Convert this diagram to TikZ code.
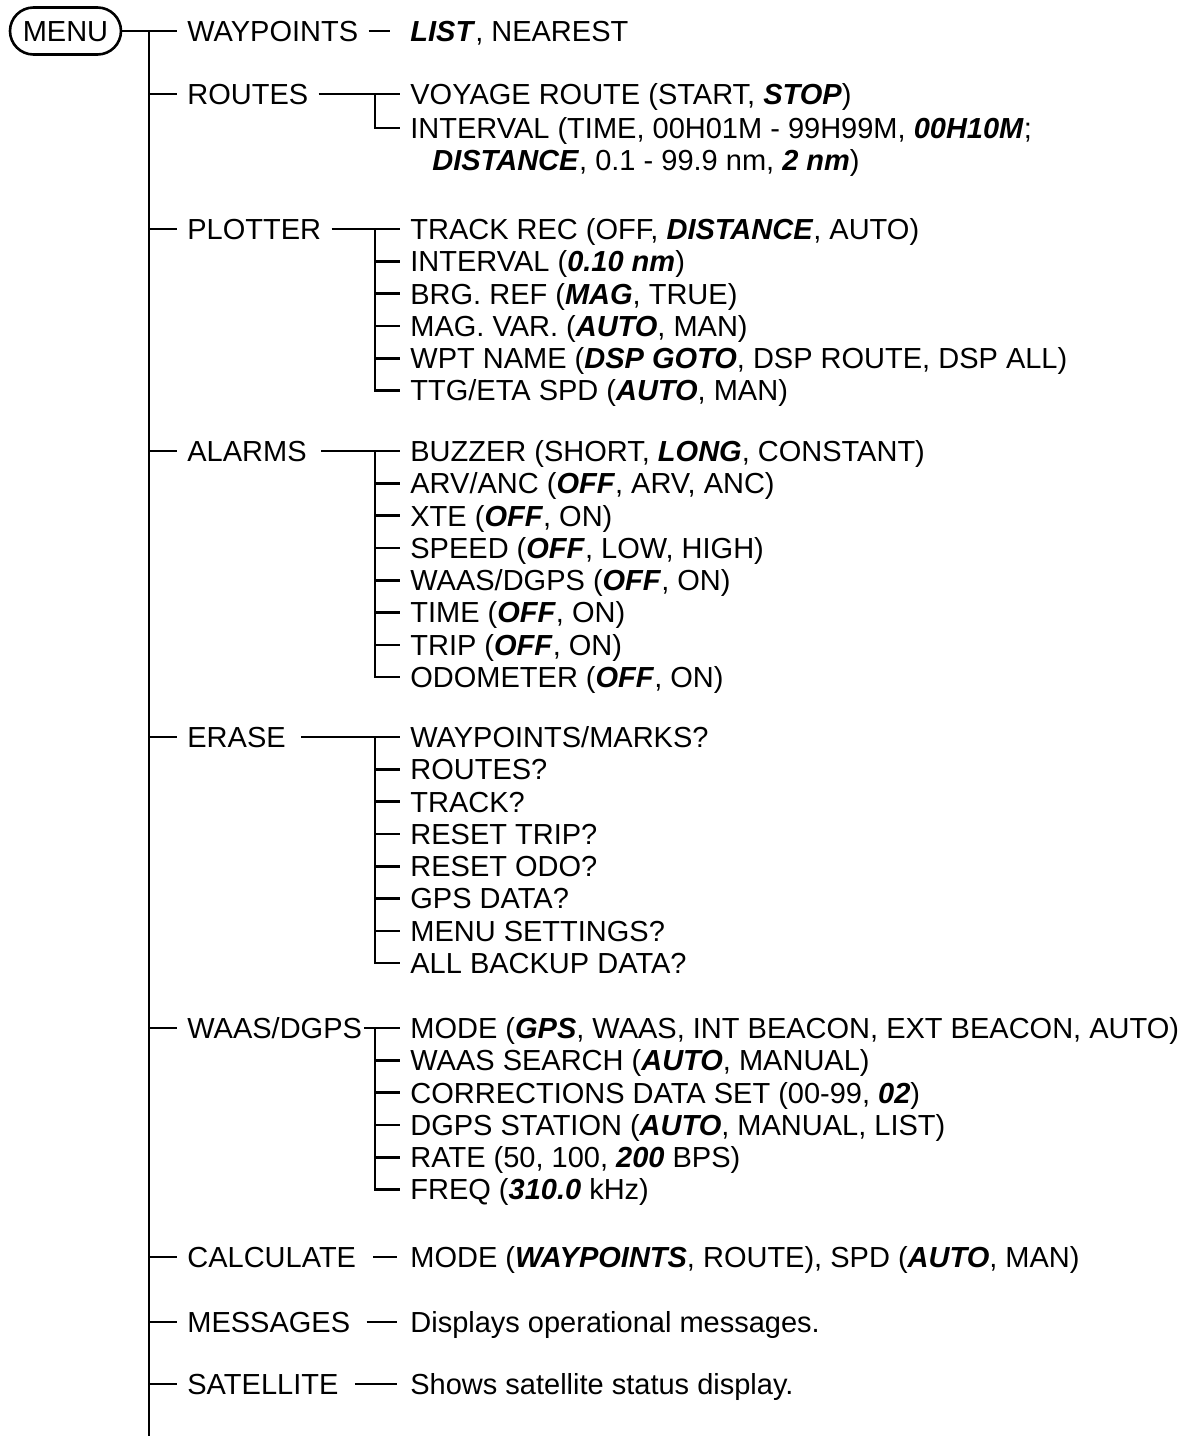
\documentclass[tikz,border=0pt]{standalone}
\usepackage{fontspec}
\setmainfont{Liberation Sans}
\usepackage{tikz}
\usetikzlibrary{positioning}

\newcommand{\dflt}[1]{\textbf{\textit{#1}}}

\begin{document}
\begin{tikzpicture}[
  x=0.5pt,y=-0.5pt,
  font=\fontsize{14.5}{15.75}\selectfont,
  txt/.style={anchor=west,inner xsep=5pt,inner ysep=0pt,text height=10.4pt,text depth=0pt,minimum height=15.75pt},
  stack/.style={below=0pt of #1.south west,anchor=north west},
  pill/.style={draw,line width=1.3pt,rounded corners=11.75pt,minimum width=55.5pt,minimum height=23.5pt,inner sep=0pt,text height=10.4pt,text depth=0pt},
  tree/.style={line width=1.3pt},
  tie/.style={line width=1pt}
]
\useasboundingbox (0,0) rectangle (1192,1436);

\node[pill] (menu) at (65.5,31) {MENU};
\coordinate (bot) at (149,1436);
\coordinate (sub) at (375,0);

% WAYPOINTS
\node[txt] (waypoints) at (177,31) {WAYPOINTS};
\node[txt] (wlist) at (400,31) {\dflt{LIST}, NEAREST};

% ROUTES
\node[txt] (routes) at (177,94) {ROUTES};
\node[txt] (r1) at (400,94) {VOYAGE ROUTE (START, \dflt{STOP})};
\node[txt] (r2) at (400,128) {INTERVAL (TIME, 00H01M - 99H99M, \dflt{00H10M};};
\node[txt,stack=r2,xshift=11pt] (r3) {\dflt{DISTANCE}, 0.1 - 99.9 nm, \dflt{2 nm})};

% PLOTTER
\node[txt] (plotter) at (177,229) {PLOTTER};
\node[txt] (p1) at (400,229) {TRACK REC (OFF, \dflt{DISTANCE}, AUTO)};
\node[txt,stack=p1] (p2) {INTERVAL (\dflt{0.10 nm})};
\node[txt,stack=p2] (p3) {BRG. REF (\dflt{MAG}, TRUE)};
\node[txt,stack=p3] (p4) {MAG. VAR. (\dflt{AUTO}, MAN)};
\node[txt,stack=p4] (p5) {WPT NAME (\dflt{DSP GOTO}, DSP ROUTE, DSP ALL)};
\node[txt,stack=p5] (p6) {TTG/ETA SPD (\dflt{AUTO}, MAN)};

% ALARMS
\node[txt] (alarms) at (177,451) {ALARMS};
\node[txt] (a1) at (400,451) {BUZZER (SHORT, \dflt{LONG}, CONSTANT)};
\node[txt,stack=a1] (a2) {ARV/ANC (\dflt{OFF}, ARV, ANC)};
\node[txt,stack=a2] (a3) {XTE (\dflt{OFF}, ON)};
\node[txt,stack=a3] (a4) {SPEED (\dflt{OFF}, LOW, HIGH)};
\node[txt,stack=a4] (a5) {WAAS/DGPS (\dflt{OFF}, ON)};
\node[txt,stack=a5] (a6) {TIME (\dflt{OFF}, ON)};
\node[txt,stack=a6] (a7) {TRIP (\dflt{OFF}, ON)};
\node[txt,stack=a7] (a8) {ODOMETER (\dflt{OFF}, ON)};

% ERASE
\node[txt] (erase) at (177,737) {ERASE};
\node[txt] (e1) at (400,737) {WAYPOINTS/MARKS?};
\node[txt,stack=e1] (e2) {ROUTES?};
\node[txt,stack=e2] (e3) {TRACK?};
\node[txt,stack=e3] (e4) {RESET TRIP?};
\node[txt,stack=e4] (e5) {RESET ODO?};
\node[txt,stack=e5] (e6) {GPS DATA?};
\node[txt,stack=e6] (e7) {MENU SETTINGS?};
\node[txt,stack=e7] (e8) {ALL BACKUP DATA?};

% WAAS/DGPS
\node[txt] (waas) at (177,1028) {WAAS/DGPS};
\node[txt] (w1) at (400,1028) {MODE (\dflt{GPS}, WAAS, INT BEACON, EXT BEACON, AUTO)};
\node[txt,stack=w1] (w2) {WAAS SEARCH (\dflt{AUTO}, MANUAL)};
\node[txt,stack=w2] (w3) {CORRECTIONS DATA SET (00-99, \dflt{02})};
\node[txt,stack=w3] (w4) {DGPS STATION (\dflt{AUTO}, MANUAL, LIST)};
\node[txt,stack=w4] (w5) {RATE (50, 100, \dflt{200} BPS)};
\node[txt,stack=w5] (w6) {FREQ (\dflt{310.0} kHz)};

% CALCULATE, MESSAGES, SATELLITE
\node[txt] (calc) at (177,1257) {CALCULATE};
\node[txt] (c1) at (400,1257) {MODE (\dflt{WAYPOINTS}, ROUTE), SPD (\dflt{AUTO}, MAN)};
\node[txt] (msg) at (177,1322) {MESSAGES};
\node[txt] (m1) at (400,1322) {Displays operational messages.};
\node[txt] (sat) at (177,1384) {SATELLITE};
\node[txt] (s1) at (400,1384) {Shows satellite status display.};

% main trunk
\draw[tree] (menu) -- (waypoints);
\draw[tree] (menu.east -| bot) -- (bot);
\foreach \n in {routes,plotter,alarms,erase,waas,calc,msg,sat}
  \draw[tree] (\n.west -| bot) -- (\n.west);

% short ties
\draw[tie,shorten <=0pt,shorten >=5pt] (waypoints) -- (wlist);
\draw[tie,shorten <=3.5pt,shorten >=1.5pt] (calc) -- (c1);
\draw[tie,shorten <=3pt,shorten >=1.5pt] (msg) -- (m1);
\draw[tie,shorten <=3pt,shorten >=1.5pt] (sat) -- (s1);

% sub trees
\draw[tree] (routes) -- (r1);
\draw[tree] (r1.west -| sub) |- (r2.west);

\draw[tree] (plotter) -- (p1);
\draw[tree] (p1.west -| sub) |- (p6.west);
\foreach \n in {p2,p3,p4,p5}
  \draw[tree] (\n.west -| sub) -- (\n.west);

\draw[tree,shorten <=2pt] (alarms) -- (a1);
\draw[tree] (a1.west -| sub) |- (a8.west);
\foreach \n in {a2,a3,a4,a5,a6,a7}
  \draw[tree] (\n.west -| sub) -- (\n.west);

\draw[tree,shorten <=2.5pt] (erase) -- (e1);
\draw[tree] (e1.west -| sub) |- (e8.west);
\foreach \n in {e2,e3,e4,e5,e6,e7}
  \draw[tree] (\n.west -| sub) -- (\n.west);

\draw[tree,shorten <=-4pt] (waas) -- (w1);
\draw[tree] (w1.west -| sub) |- (w6.west);
\foreach \n in {w2,w3,w4,w5}
  \draw[tree] (\n.west -| sub) -- (\n.west);
\end{tikzpicture}
\end{document}
